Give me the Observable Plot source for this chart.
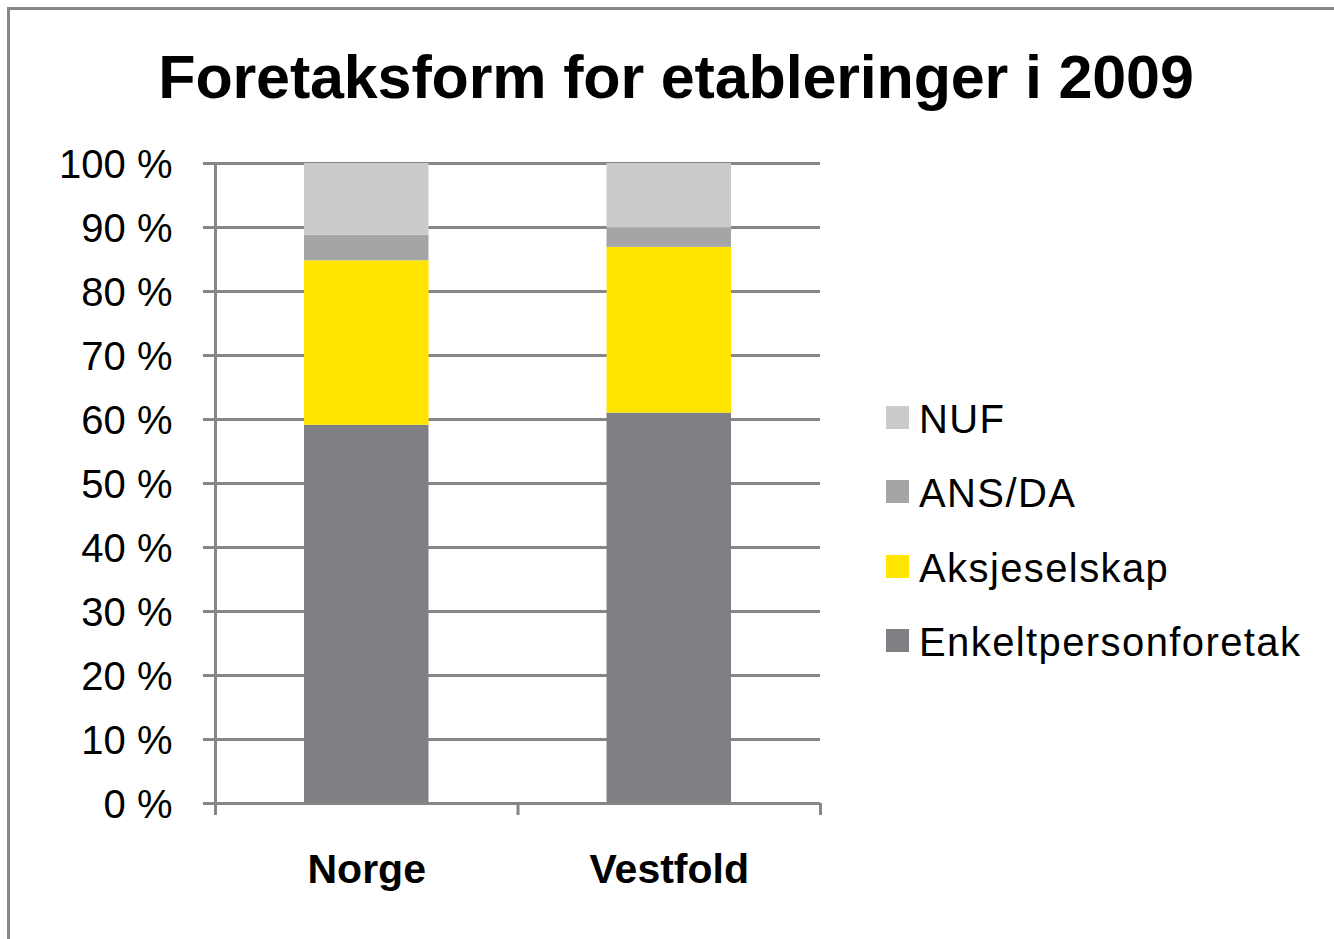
<!DOCTYPE html>
<html><head><meta charset="utf-8">
<script src="https://cdn.jsdelivr.net/npm/d3@7"></script>
<script src="https://cdn.jsdelivr.net/npm/@observablehq/plot@0.6"></script>
<style>
body{margin:0;background:#fff;}
#wrap{position:relative;width:1334px;height:939px;overflow:hidden;font-family:"Liberation Sans",Arial,sans-serif;background:#fff;}
#wrap svg{position:absolute;left:0;top:0;}
#title{position:absolute;left:0;top:47px;width:1352px;text-align:center;font-size:61px;line-height:61px;font-weight:bold;color:#000;white-space:nowrap;letter-spacing:-0.15px;}
.lg-sw{position:absolute;width:23px;height:23px;}
.lg-tx{position:absolute;font-size:40px;line-height:40px;color:#000;white-space:nowrap;letter-spacing:1.4px;}
#border{position:absolute;left:7px;top:7px;width:1400px;height:1000px;border:3px solid #878787;pointer-events:none;}
</style></head><body><div id="wrap"></div>
<script>
const title = "Foretaksform for etableringer i 2009";
const categories = ["Norge", "Vestfold"];
const series = ["Enkeltpersonforetak", "Aksjeselskap", "ANS/DA", "NUF"];
const colors = ["#807f83", "#ffe500", "#a5a5a7", "#cbcbcd"];
const norge = [59.1, 25.7, 4.0, 11.2];
const vestfold = [61.0, 25.9, 3.0, 10.1];
const yTicks = [0, 10, 20, 30, 40, 50, 60, 70, 80, 90, 100];
const legendOrder = ["NUF", "ANS/DA", "Aksjeselskap", "Enkeltpersonforetak"];

const valuesByCat = [norge, vestfold];
const rows = [];
categories.forEach((c, i) => {
  series.forEach((s, j) => rows.push({cat: c, pos: i, type: s, value: valuesByCat[i][j]}));
});

const grey = "#868686";
const chart = Plot.plot({
  width: 1334, height: 939,
  marginLeft: 215, marginRight: 514, marginTop: 163, marginBottom: 136,
  style: {background: "transparent", fontFamily: "Liberation Sans, Arial, sans-serif", color: "#000"},
  x: {domain: [0, categories.length]},
  y: {domain: [0, 100]},
  color: {domain: series, range: colors},
  marks: [
    Plot.gridY(yTicks, {stroke: grey, strokeOpacity: 1, strokeWidth: 3}),
    Plot.rectY(rows, {x: "pos", interval: 1, y: "value", fill: "type", z: "type", order: series, insetLeft: 89, insetRight: 89}),
    Plot.ruleX([0], {stroke: grey, strokeWidth: 3}),
    Plot.ruleY([0], {stroke: grey, strokeWidth: 3}),
    Plot.axisY(yTicks, {tickSize: 12, tickFormat: () => "", stroke: grey, strokeWidth: 3, label: null}),
    Plot.axisY(yTicks, {tickSize: 0, tickPadding: 43, tickFormat: d => d + " %", fontSize: 40, stroke: "none", fill: "#000", label: null, fontVariant: "normal", dy: 2}),
    Plot.axisX(d3.range(categories.length + 1), {tickSize: 12, stroke: grey, strokeWidth: 3, tickFormat: () => "", label: null}),
    Plot.text(categories, {x: (d, i) => i + 0.5, text: d => d, frameAnchor: "bottom", dy: 79, fontSize: 41, fontWeight: "bold", fill: "#000"})
  ]
});

const wrap = document.getElementById("wrap");
wrap.appendChild(chart);

const t = document.createElement("div");
t.id = "title"; t.textContent = title;
wrap.appendChild(t);

legendOrder.forEach((s, i) => {
  const top = 406 + i * 74.3;
  const sw = document.createElement("div");
  sw.className = "lg-sw";
  sw.style.left = "886px"; sw.style.top = top + "px";
  sw.style.background = colors[series.indexOf(s)];
  wrap.appendChild(sw);
  const tx = document.createElement("div");
  tx.className = "lg-tx";
  tx.style.left = "919px"; tx.style.top = (top - 7) + "px";
  tx.textContent = s;
  wrap.appendChild(tx);
});

const b = document.createElement("div");
b.id = "border";
wrap.appendChild(b);
</script>
</body></html>
